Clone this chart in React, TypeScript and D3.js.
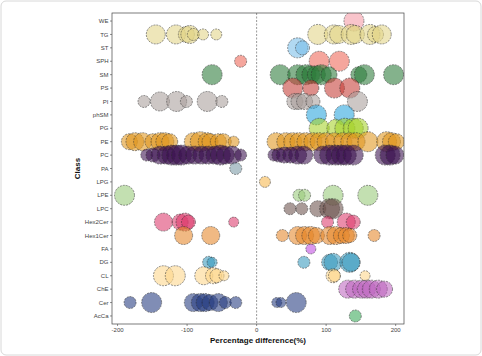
import React from "react";
import * as d3 from "d3";

// Classes, top to bottom
const classes = ["WE","TG","ST","SPH","SM","PS","PI","phSM","PG","PE","PC","PA","LPG","LPE","LPC","Hex2Cer","Hex1Cer","FA","DG","CL","ChE","Cer","AcCa"];

// [percentage difference, size]
const WE = [[140,100]];
const TG = [[-145,90],[-116,90],[-101,64],[-96,81],[-91,36],[-77,30],[-58,30],[88,100],[111,90],[118,81],[136,100],[142,81],[163,100],[171,64],[180,90]];
const ST = [[59,100],[66,49]];
const SPH = [[-23,36],[90,100],[119,100]];
const SM = [[-64,100],[34,100],[59,100],[71,100],[78,81],[86,81],[93,100],[104,64],[147,64],[155,100],[197,100]];
const PS = [[52,100],[78,64],[112,100],[134,100]];
const PI = [[-162,36],[-139,90],[-115,100],[-101,36],[-71,100],[-50,36],[55,64],[61,64],[69,64],[81,49],[145,100]];
const phSM = [[86,100],[126,100]];
const PG = [[90,100],[114,81],[127,100],[139,100],[146,100]];
const PE = [[-183,64],[-175,81],[-164,81],[-149,64],[-139,81],[-132,81],[-125,64],[-91,81],[-81,100],[-71,81],[-67,64],[-55,64],[-48,64],[-33,30],
  [28,81],[42,81],[52,81],[61,81],[71,81],[81,81],[90,81],[100,81],[112,81],[124,81],[134,81],[143,81],[160,100],[187,100],[194,81],[201,64]];
const PC = [[-158,36],[-149,49],[-139,81],[-130,81],[-122,100],[-115,100],[-108,100],[-99,81],[-89,81],[-79,81],[-70,81],[-60,81],[-52,100],[-45,81],[-35,81],[-23,36],
  [25,36],[32,49],[40,64],[49,64],[59,81],[68,81],[95,81],[105,100],[114,100],[122,100],[129,100],[139,100],[185,100],[192,100],[199,81]];
const PA = [[-30,36]];
const LPG = [[12,30]];
const LPE = [[-190,100],[61,36],[69,36],[110,100],[160,100]];
const LPC = [[48,36],[65,36],[88,64],[105,100],[110,100]];
const Hex2Cer = [[-134,81],[-110,64],[-103,81],[-98,49],[-33,25],[102,36],[129,81],[139,49]];
const Hex1Cer = [[-105,81],[-66,81],[37,36],[59,81],[69,81],[78,81],[86,64],[105,81],[114,81],[122,64],[129,64],[134,49],[169,36]];
const FA = [[78,25]];
const DG = [[-69,36],[-64,25],[68,36],[105,64],[110,81],[134,100],[136,81]];
const CL = [[-134,100],[-117,100],[-76,81],[-62,64],[-57,49],[-47,25],[110,49],[112,36],[156,25]];
const ChE = [[131,81],[141,81],[151,81],[158,81],[165,81],[175,81],[184,64]];
const Cer = [[-182,36],[-151,100],[-91,81],[-81,81],[-74,81],[-67,64],[-55,81],[-45,36],[-30,36],[29,25],[35,25],[57,100]];
const AcCa = [[142,36]];

const seriesByClass: [string, number[][]][] = [
  ["WE",WE],["TG",TG],["ST",ST],["SPH",SPH],["SM",SM],["PS",PS],["PI",PI],["phSM",phSM],["PG",PG],["PE",PE],["PC",PC],["PA",PA],
  ["LPG",LPG],["LPE",LPE],["LPC",LPC],["Hex2Cer",Hex2Cer],["Hex1Cer",Hex1Cer],["FA",FA],["DG",DG],["CL",CL],["ChE",ChE],["Cer",Cer],["AcCa",AcCa],
];

const xTicks = [-200, -100, 0, 100, 200];

const classColors: Record<string, string> = {
  WE: "#f49aa6", TG: "#e2d487", ST: "#78bde9", SPH: "#ee6656", SM: "#2b7a38", PS: "#c53c36",
  PI: "#a89e9b", phSM: "#28a3dc", PG: "#a6d22a", PE: "#e0961e", PC: "#3a1150", PA: "#7b9aa6",
  LPG: "#f7b64c", LPE: "#98c978", LPC: "#6c524e", Hex2Cer: "#dc3a6c", Hex1Cer: "#e6862a",
  FA: "#c04ce0", DG: "#3799be", CL: "#fdd68a", ChE: "#be66c0", Cer: "#243a80", AcCa: "#38a858",
};

export default function App() {
  const W = 482, H = 356;
  const left = 112, right = 404, top = 13, bottom = 324;
  const x = d3.scaleLinear().domain([-208, 212]).range([left, right]);
  const y = d3.scalePoint<string>().domain(classes).range([top, bottom]).padding(0.6);
  const r = d3.scaleSqrt().domain([0, 100]).range([0, 10]);
  const font = "'Liberation Sans', Arial, sans-serif";

  return (
    <svg width={W} height={H} style={{ position: "absolute", left: 0, top: 0 }} fontFamily={font}>
      <rect x={0} y={0} width={W} height={H} fill="#fff" />
      <rect x={1} y={1} width={W - 2} height={H - 2} rx={5} fill="none" stroke="#d8d8d8" />
      <defs>
        <clipPath id="panel">
          <rect x={left} y={top} width={right - left} height={bottom - top} />
        </clipPath>
      </defs>
      <line x1={x(0)} x2={x(0)} y1={top} y2={bottom} stroke="#555" strokeWidth={0.6} strokeDasharray="2,1.5" />
      <g clipPath="url(#panel)">
        {seriesByClass.map(([cls, pts]) =>
          pts.map((p, i) => (
            <circle key={cls + i} cx={x(p[0])} cy={y(cls)!} r={r(p[1])}
              fill={classColors[cls]} fillOpacity={0.58}
              stroke="#2a2a2a" strokeOpacity={0.85} strokeWidth={0.6} strokeDasharray="2,1" />
          ))
        )}
      </g>
      <rect x={left} y={top} width={right - left} height={bottom - top} fill="none" stroke="#444" strokeWidth={0.7} />
      {classes.map((c) => (
        <g key={c}>
          <line x1={left - 2} x2={left} y1={y(c)!} y2={y(c)!} stroke="#444" strokeWidth={0.6} />
          <text x={left - 3.5} y={y(c)!} dy="0.35em" textAnchor="end" fontSize={6} fill="#444">{c}</text>
        </g>
      ))}
      {xTicks.map((t) => (
        <g key={t}>
          <line x1={x(t)} x2={x(t)} y1={bottom} y2={bottom + 2} stroke="#444" strokeWidth={0.6} />
          <text x={x(t)} y={bottom + 8} textAnchor="middle" fontSize={6} fill="#444">{t}</text>
        </g>
      ))}
      <text x={(left + right) / 2} y={343} textAnchor="middle" fontSize={8} fontWeight="bold" fill="#111">Percentage difference(%)</text>
      <text transform={`translate(80, ${(top + bottom) / 2}) rotate(-90)`} textAnchor="middle" fontSize={8} fontWeight="bold" fill="#111">Class</text>
    </svg>
  );
}
